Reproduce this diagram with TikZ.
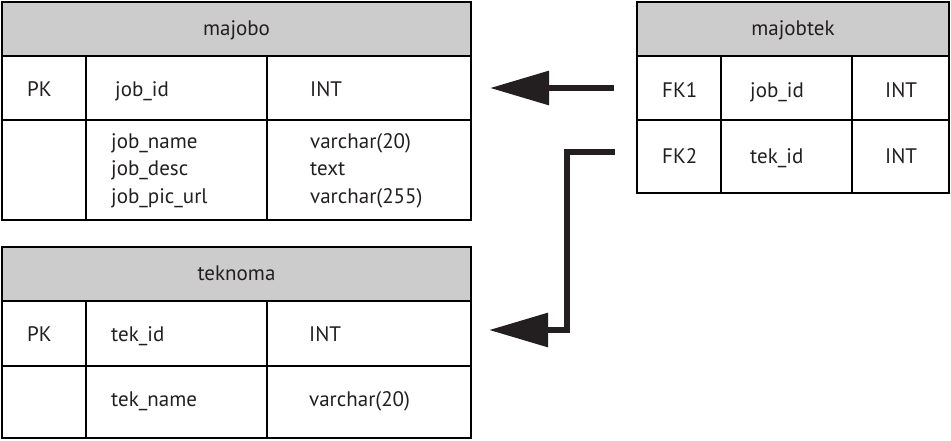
\documentclass[tikz,border=0pt]{standalone}
\usepackage{fontspec}
\setmainfont{PT Sans}
\usetikzlibrary{arrows.meta}
\definecolor{ink}{HTML}{231F20}
\definecolor{head}{HTML}{CCCCCC}
\begin{document}
\begin{tikzpicture}[x=1pt,y=-1pt,
  cell/.style={draw=black, line width=2pt, inner sep=0pt, minimum width=#1},
  hdr/.style={draw=black, line width=2pt, fill=head, inner sep=0pt},
  txt/.style={anchor=base west, inner sep=0pt, text=ink, font=\fontsize{21}{25}\selectfont},
  ttl/.style={anchor=base, inner sep=0pt, text=ink, font=\fontsize{21}{25}\selectfont},
  link/.style={line width=6pt, draw=black, -{Triangle[length=59pt,width=33pt]}, color=ink}]
\useasboundingbox (0,0) rectangle (951,440);
% ---- majobo ----
\node[hdr, minimum width=469pt, minimum height=54pt] (h1) at (236.5,29) {};
\node[cell=84pt, minimum height=64pt] (a11) at (44,88) {};
\node[cell=181pt, minimum height=64pt] (a12) at (176.5,88) {};
\node[cell=204pt, minimum height=64pt] (a13) at (369,88) {};
\node[cell=84pt, minimum height=100pt] (a21) at (44,170) {};
\node[cell=181pt, minimum height=100pt] (a22) at (176.5,170) {};
\node[cell=204pt, minimum height=100pt] (a23) at (369,170) {};
\node[ttl] (t1) at (236.5,35) {majobo};
\node[txt] (a11t) at (27,96) {PK};
\node[txt] (a12t) at (115,96) {job\_id};
\node[txt] (a13t) at (310,96) {INT};
\node[txt] (a22a) at (111,148) {job\_name};
\node[txt] (a22b) at (111,175.5) {job\_desc};
\node[txt] (a22c) at (111,203) {job\_pic\_url};
\node[txt] (a23a) at (310,148) {varchar(20)};
\node[txt] (a23b) at (310,175.5) {text};
\node[txt] (a23c) at (310,203) {varchar(255)};
% ---- teknoma ----
\node[hdr, minimum width=469pt, minimum height=54pt] (h2) at (236.5,274) {};
\node[cell=84pt, minimum height=65pt] (b11) at (44,333.5) {};
\node[cell=181pt, minimum height=65pt] (b12) at (176.5,333.5) {};
\node[cell=204pt, minimum height=65pt] (b13) at (369,333.5) {};
\node[cell=84pt, minimum height=72pt] (b21) at (44,402) {};
\node[cell=181pt, minimum height=72pt] (b22) at (176.5,402) {};
\node[cell=204pt, minimum height=72pt] (b23) at (369,402) {};
\node[ttl] (t2) at (236.5,280) {teknoma};
\node[txt] (b11t) at (27,341) {PK};
\node[txt] (b12t) at (111,341) {tek\_id};
\node[txt] (b13t) at (309,341) {INT};
\node[txt] (b22t) at (111,406) {tek\_name};
\node[txt] (b23t) at (309,406) {varchar(20)};
% ---- majobtek ----
\node[hdr, minimum width=312pt, minimum height=54pt] (h3) at (793,29) {};
\node[cell=84pt, minimum height=64pt] (c11) at (679,88) {};
\node[cell=131pt, minimum height=64pt] (c12) at (786.5,88) {};
\node[cell=97pt, minimum height=64pt] (c13) at (900.5,88) {};
\node[cell=84pt, minimum height=73pt] (c21) at (679,156.5) {};
\node[cell=131pt, minimum height=73pt] (c22) at (786.5,156.5) {};
\node[cell=97pt, minimum height=73pt] (c23) at (900.5,156.5) {};
\node[ttl] (t3) at (793,35) {majobtek};
\node[txt] (c11t) at (662,97) {FK1};
\node[txt] (c12t) at (750,97) {job\_id};
\node[txt] (c13t) at (885,97) {INT};
\node[txt] (c21t) at (662,163) {FK2};
\node[txt] (c22t) at (750,163) {tek\_id};
\node[txt] (c23t) at (885,163) {INT};
% ---- connectors ----
\coordinate (s1) at ([xshift=-22pt]c11.west);
\coordinate (e1) at ([xshift=18pt]a13.east);
\coordinate (s2) at (615,152);
\coordinate (e2) at (489,330);
\draw[link] (s1) -- (e1);
\draw[link, line cap=butt] (s2) -- (567,152) -- (567,330) -- (e2);
\end{tikzpicture}
\end{document}
